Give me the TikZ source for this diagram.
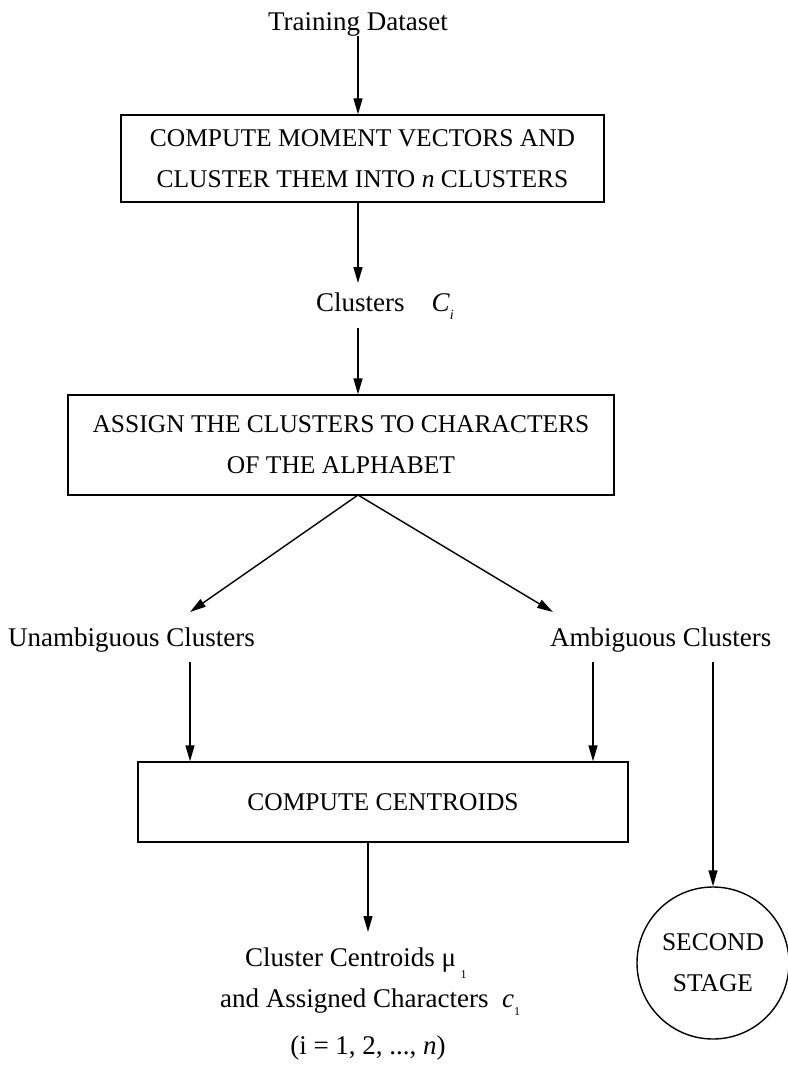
\documentclass[tikz,border=0pt]{standalone}
\usepackage{fontspec}
\setmainfont{Liberation Serif}
\usetikzlibrary{arrows.meta}
\begin{document}
\begin{tikzpicture}[x=1pt,y=-1pt,
  every node/.style={font=\fontsize{25.5}{41}\selectfont, inner sep=0pt},
  lbl/.style={font=\fontsize{27}{40}\selectfont},
  box/.style={draw, line width=1.4pt, align=center},
  arr/.style={-{Triangle[length=16pt,width=9pt]}, line width=1.4pt},
  ln/.style={line width=1.4pt}]
\useasboundingbox (0,0) rectangle (787,1070);
% nodes
\node[lbl] (train) at (358,24) {Training Dataset};
\node[box, minimum width=483pt, minimum height=87pt] (b1) at (362.5,158.5)
  {COMPUTE MOMENT VECTORS AND\\CLUSTER THEM INTO \textit{n} CLUSTERS};
\node[lbl, anchor=west] (clus) at (316,306) {Clusters\quad\textit{C}\raisebox{-0.3em}{\fontsize{14}{14}\selectfont\textit{i}}};
\node[box, minimum width=546pt, minimum height=100pt] (b2) at (341,445)
  {ASSIGN THE CLUSTERS TO CHARACTERS\\OF THE ALPHABET};
\node[lbl, anchor=west] (unamb) at (8,640) {Unambiguous Clusters};
\node[lbl, anchor=west] (amb) at (550,640) {Ambiguous Clusters};
\node[box, minimum width=490pt, minimum height=80pt] (b3) at (383,802) {COMPUTE CENTROIDS};
\node[lbl, anchor=west] (res1) at (245,963) {Cluster Centroids μ\,\raisebox{-0.45em}{\fontsize{12}{12}\selectfont 1}};
\node[lbl, anchor=west] (res2) at (220,1002) {and Assigned Characters\enspace\textit{c}\raisebox{-0.3em}{\fontsize{12}{12}\selectfont 1}};
\node[lbl] (res3) at (368,1048) {(i = 1, 2, ..., \textit{n})};
\node[draw, circle, line width=1.4pt, minimum size=152pt, align=center] (second) at (713,963) {SECOND\\STAGE};
% free ends
\coordinate (split) at (358,495);
\coordinate (tipL) at (190,612);
\coordinate (tipR) at (553,612);
% connectors
\draw[arr] (train.south) -- (train.south |- b1.north);
\draw[arr] (b1.south -| train) -- (358,283);
\draw[arr] (358,328) -- (b2.north -| train);
\draw[ln] (b2.south -| split) -- (split);
\draw[arr] (split) -- (tipL);
\draw[arr] (split) -- (tipR);
\draw[arr] (190,662) -- (b3.north -| 190,0);
\draw[arr] (593,662) -- (b3.north -| 593,0);
\draw[arr] (second.north |- 0,662) -- (second.north);
\draw[arr] (b3.south -| res3) -- (368,932);
\end{tikzpicture}
\end{document}
